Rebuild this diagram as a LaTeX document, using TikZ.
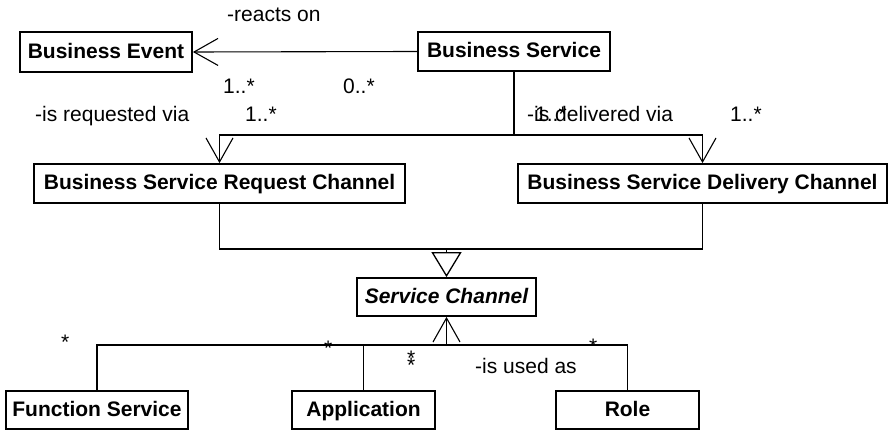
\documentclass[tikz,border=0pt]{standalone}
\usepackage{fontspec}
\setmainfont{Liberation Sans}
\usetikzlibrary{arrows.meta}
\begin{document}
\begin{tikzpicture}[x=1pt,y=-1pt,
  every node/.style={font=\fontsize{21}{25}\selectfont},
  cls/.style={draw,line width=1.8pt,inner sep=0pt,text height=15pt,text depth=2pt,
    font=\fontsize{21}{25}\selectfont\bfseries},
  lbl/.style={inner sep=0pt,anchor=base west},
  conn/.style={line width=1.1pt},
  nav/.style={conn,-{Straight Barb[length=24pt,width=27pt,line width=1.1pt]}},
  gen/.style={conn,-{Triangle[open,length=25pt,width=30pt,line width=1.3pt]}}]
\useasboundingbox (0,0) rectangle (888,430);

% classes
\node[cls,minimum width=172pt,minimum height=40pt] (be) at (106,52) {Business Event};
\node[cls,minimum width=192pt,minimum height=39pt] (bs) at (514,51.5) {Business Service};
\node[cls,minimum width=371pt,minimum height=39pt] (bsrc) at (219.5,183.5) {Business Service Request Channel};
\node[cls,minimum width=369pt,minimum height=39pt] (bsdc) at (702.5,183.5) {Business Service Delivery Channel};
\node[cls,minimum width=179pt,minimum height=38pt] (sc) at (446.5,297) {\itshape Service Channel};
\node[cls,minimum width=182pt,minimum height=38pt] (fs) at (97,410) {Function Service};
\node[cls,minimum width=143pt,minimum height=38pt] (app) at (363.5,410) {Application};
\node[cls,minimum width=143pt,minimum height=38pt] (role) at (627.5,410) {Role};

% reacts on
\draw[nav] (bs.west) -- (be.east);

% request / delivery channels
\coordinate (k) at (bs.south |- 0,135);
\draw[conn] (bs.south) -- (k);
\draw[nav] (k) -| (bsrc.north);
\draw[nav] (k) -| (bsdc.north);

% generalisation into Service Channel
\coordinate (j) at (sc.north |- 0,249);
\draw[conn] (bsrc.south) |- (j);
\draw[conn] (bsdc.south) |- (j);
\draw[gen] (j) -- (sc.north);

% is used as
\coordinate (m) at (sc.south |- 0,345);
\draw[nav] (m) -- (sc.south);
\draw[conn] (fs.north) |- (m);
\draw[conn] (app.north) |- (m);
\draw[conn] (role.north) |- (m);

% role names and multiplicities
\node[lbl] (l1) at (227,22) {-reacts on};
\node[lbl] (l2) at (223,94) {1..*};
\node[lbl] (l3) at (343,94) {0..*};
\node[lbl] (l4) at (35,122) {-is requested via};
\node[lbl] (l5) at (245,122) {1..*};
\node[lbl] (l6) at (527,122) {-is delivered via};
\node[lbl] (l7) at (535,122) {1..*};
\node[lbl] (l8) at (730,122) {1..*};
\node[lbl] (s1) at (61,349) {*};
\node[lbl] (s2) at (324,355) {*};
\node[lbl] (s3) at (407,365) {*};
\node[lbl] (s4) at (407,372) {*};
\node[lbl] (s5) at (589,353) {*};
\node[lbl] (l9) at (475,373) {-is used as};
\end{tikzpicture}
\end{document}
